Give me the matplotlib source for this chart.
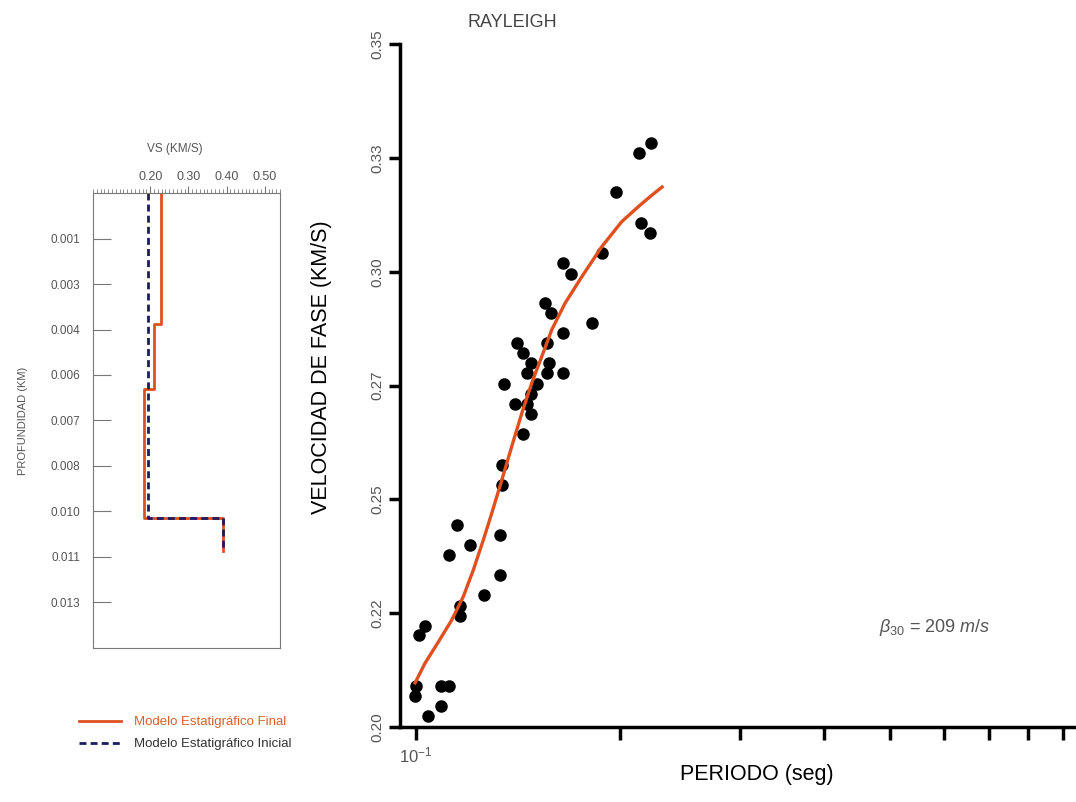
import matplotlib
matplotlib.use('Agg')
import matplotlib.pyplot as plt
import numpy as np
from matplotlib.lines import Line2D

plt.rcParams['font.family'] = ['Liberation Sans', 'DejaVu Sans']
plt.rcParams['mathtext.fontset'] = 'custom'
plt.rcParams['mathtext.rm'] = 'Liberation Sans'
plt.rcParams['mathtext.it'] = 'Liberation Sans:italic'

# ---- left panel: velocity profile (Vs in km/s vs depth in km)
vs_final = [0.228, 0.228, 0.209, 0.209, 0.184, 0.184, 0.390, 0.390]
dz_final = [0.0, 0.00412, 0.00412, 0.00615, 0.00615, 0.0102, 0.0102, 0.01125]
vs_init = [0.195, 0.195, 0.390, 0.390]
dz_init = [0.0, 0.0102, 0.0102, 0.01125]
depth_ticks = [0.00143, 0.00286, 0.00429, 0.00571, 0.00714, 0.00857, 0.0100, 0.01143, 0.01286]
depth_labels = ['0.001', '0.003', '0.004', '0.006', '0.007', '0.008', '0.010', '0.011', '0.013']
vs_ticks = [0.20, 0.30, 0.40, 0.50]
vs_labels = ['0.20', '0.30', '0.40', '0.50']

# ---- right panel: dispersion curve (period in s, phase velocity in km/s)
periodo = [0.222, 0.213, 0.197, 0.215, 0.221, 0.188, 0.165, 0.169, 0.155, 0.158,
           0.182, 0.165, 0.141, 0.156, 0.144, 0.148, 0.157, 0.146, 0.156, 0.165,
           0.135, 0.151, 0.148, 0.140, 0.146, 0.148, 0.144, 0.134, 0.134, 0.115,
           0.133, 0.120, 0.112, 0.133, 0.126, 0.116, 0.116, 0.103, 0.101, 0.100,
           0.109, 0.112, 0.0997, 0.109, 0.104]
velocidad = [0.3283, 0.3261, 0.3174, 0.3108, 0.3086, 0.3040, 0.3019, 0.2996, 0.2931, 0.2909,
             0.2887, 0.2865, 0.2843, 0.2843, 0.2821, 0.2799, 0.2799, 0.2777, 0.2777, 0.2777,
             0.2753, 0.2753, 0.2731, 0.2709, 0.2709, 0.2687, 0.2644, 0.2576, 0.2532, 0.2444,
             0.2422, 0.2400, 0.2378, 0.2334, 0.2289, 0.2266, 0.2244, 0.2222, 0.2201, 0.2091,
             0.2091, 0.2091, 0.2069, 0.2047, 0.2024]
curva_t = [0.0997, 0.1031, 0.1079, 0.1129, 0.1174, 0.1215, 0.1257, 0.1293, 0.1338, 0.1384,
           0.1432, 0.1481, 0.1532, 0.1585, 0.1659, 0.1756, 0.1879, 0.2011, 0.2128, 0.2227,
           0.2306]
curva_v = [0.2097, 0.2140, 0.2187, 0.2235, 0.2286, 0.2345, 0.2411, 0.2469, 0.2542, 0.2616,
           0.2689, 0.2755, 0.2813, 0.2872, 0.2931, 0.2989, 0.3055, 0.3110, 0.3143, 0.3168,
           0.3186]
vel_ticks = [0.200, 0.225, 0.250, 0.275, 0.300, 0.325, 0.350]
vel_labels = ['0.20', '0.22', '0.25', '0.27', '0.30', '0.33', '0.35']

red = '#e0501e'
navy = '#1c1c5e'
gray = '#555555'

fig = plt.figure(figsize=(10.76, 8.02), dpi=100)

# left panel
ax1 = fig.add_axes([0.0864, 0.192, 0.1738, 0.5673])
ax1.plot(vs_final, dz_final, color=red, lw=2.0)
ax1.plot(vs_init, dz_init, color=navy, lw=2.0, ls=(0, (2.5, 1.5)))
ax1.set_xlim(0.05, 0.54)
ax1.set_ylim(0.0143, 0)
ax1.xaxis.tick_top()
ax1.xaxis.set_label_position('top')
ax1.set_xticks(vs_ticks)
ax1.set_xticklabels(vs_labels)
ax1.set_xticks(np.arange(0.05, 0.545, 0.01), minor=True)
ax1.tick_params(axis='x', which='major', direction='out', length=5, width=0.8,
                labelsize=9, colors='#777777', labelcolor=gray, pad=2)
ax1.tick_params(axis='x', which='minor', direction='out', length=3, width=0.6, colors='#777777')
ax1.set_yticks(depth_ticks)
ax1.set_yticklabels(depth_labels)
ax1.tick_params(axis='y', direction='in', length=13, width=0.8, colors='#777777',
                labelcolor=gray, labelsize=8.5, pad=9)
for s in ax1.spines.values():
    s.set_color('#777777')
    s.set_linewidth(0.8)
ax1.set_xlabel('VS (KM/S)', fontsize=8.5, color=gray, labelpad=8)
ax1.xaxis.set_label_coords(0.44, 1.09)
ax1.set_ylabel('PROFUNDIDAD (KM)', fontsize=8, color=gray, labelpad=16)

# legend
handles = [Line2D([], [], color=red, lw=2.0),
           Line2D([], [], color=navy, lw=2.0, ls=(0, (2.5, 1.5)))]
leg = fig.legend(handles, ['Modelo Estatigráfico Final', 'Modelo Estatigráfico Inicial'],
                 loc='upper left', bbox_to_anchor=(0.062, 0.122), frameon=False,
                 handlelength=3.2, handletextpad=1.0, labelspacing=0.75, fontsize=9.5)
leg.get_texts()[0].set_color('#d9602b')
leg.get_texts()[1].set_color('#333333')

# right panel
ax2 = fig.add_axes([0.3717, 0.0935, 0.6283, 0.8516])
ax2.plot(periodo, velocidad, 'o', color='black', ms=8, zorder=2)
ax2.plot(curva_t, curva_v, color=red, lw=2.4, zorder=3, solid_joinstyle='round')
ax2.set_xscale('log')
ax2.set_xlim(0.0947, 0.94)
ax2.set_ylim(0.2, 0.35)
ax2.set_yticks(vel_ticks)
ax2.set_yticklabels(vel_labels, rotation=90, va='center')
ax2.set_xticks([0.1])
ax2.set_xticklabels(['$10^{-1}$'])
ax2.set_xticks([0.2, 0.3, 0.4, 0.5, 0.6, 0.7, 0.8, 0.9], minor=True)
ax2.xaxis.set_minor_formatter(matplotlib.ticker.NullFormatter())
ax2.tick_params(axis='y', direction='out', length=8, width=2.5, labelsize=11,
                labelcolor=gray, pad=3)
ax2.tick_params(axis='x', which='both', direction='out', length=9, width=2.5,
                labelsize=12, labelcolor=gray, pad=4)
ax2.spines['top'].set_visible(False)
ax2.spines['right'].set_visible(False)
ax2.spines['left'].set_linewidth(2.5)
ax2.spines['bottom'].set_linewidth(2.5)

fig.text(0.476, 0.972, 'RAYLEIGH', ha='center', va='center', fontsize=13, color='#444444')
fig.text(0.299, 0.542, 'VELOCIDAD DE FASE (KM/S)', ha='center', va='center',
         rotation=90, fontsize=15.5, color='black')
fig.text(0.703, 0.034, 'PERIODO (seg)', ha='center', va='center', fontsize=15.5, color='black')
fig.text(0.869, 0.217, r'$\beta_{30}$ = $\it{209\ m/s}$', ha='center', va='center',
         fontsize=13, color=gray)

fig.savefig('out.png', dpi=100)
